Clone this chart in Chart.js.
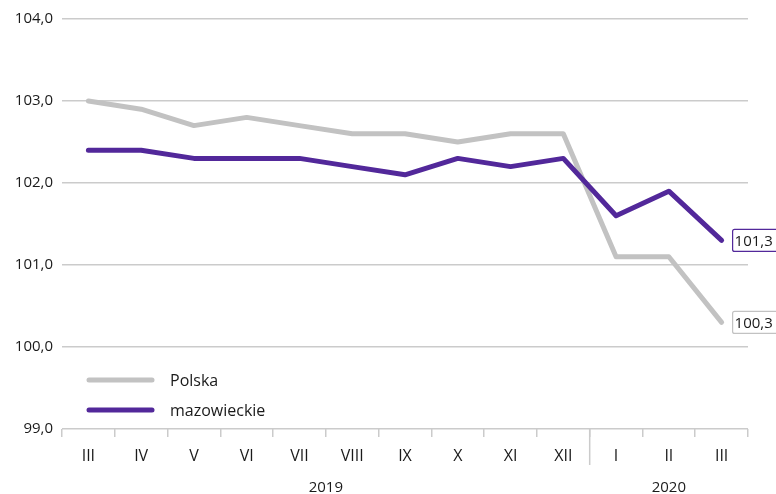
<!DOCTYPE html>
<html>
<head>
<meta charset="utf-8">
<script src="https://cdn.jsdelivr.net/npm/chart.js@4"></script>
<style>
  html, body { margin: 0; padding: 0; background: #fff; }
  #wrap { width: 776px; height: 494px; }
</style>
</head>
<body>
<div id="wrap"><canvas id="chart" width="776" height="494"></canvas></div>
<script>
// --- dane ---
const months = ['III', 'IV', 'V', 'VI', 'VII', 'VIII', 'IX', 'X', 'XI', 'XII', 'I', 'II', 'III'];
const years = [
  { label: '2019', from: 0, to: 9 },
  { label: '2020', from: 10, to: 12 }
];
const polska = [103.0, 102.9, 102.7, 102.8, 102.7, 102.6, 102.6, 102.5, 102.6, 102.6, 101.1, 101.1, 100.3];
const mazowieckie = [102.4, 102.4, 102.3, 102.3, 102.3, 102.2, 102.1, 102.3, 102.2, 102.3, 101.6, 101.9, 101.3];
const yMin = 99, yMax = 104;

const GREY = '#c2c2c2';
const PURPLE = '#52289a';
const GRID = '#cbcbcb';
const TEXT = '#1a1a1a';
const FONT = '"Open Sans", sans-serif';

const fmt = v => v.toFixed(1).replace('.', ',');

// legenda, etykiety lat i wartości końcowe rysowane ręcznie
const extras = {
  id: 'extras',
  afterDatasetsDraw(chart) {
    const { ctx, chartArea, scales } = chart;
    const x = scales.x, y = scales.y;
    ctx.save();

    // separator lat (XII | I)
    const sepX = (x.getPixelForValue(9) + x.getPixelForValue(10)) / 2;
    ctx.strokeStyle = GRID;
    ctx.lineWidth = 1.5;
    ctx.beginPath();
    ctx.moveTo(sepX, chartArea.bottom);
    ctx.lineTo(sepX, chartArea.bottom + 36);
    ctx.stroke();

    // lata
    ctx.fillStyle = TEXT;
    ctx.font = '15px ' + FONT;
    ctx.textAlign = 'center';
    ctx.textBaseline = 'middle';
    years.forEach(yr => {
      const cx = (x.getPixelForValue(yr.from) + x.getPixelForValue(yr.to)) / 2;
      ctx.fillText(yr.label, cx, chartArea.bottom + 59);
    });

    // legenda
    ctx.font = '16px ' + FONT;
    const items = [{ label: 'Polska', color: GREY }, { label: 'mazowieckie', color: PURPLE }];
    items.forEach((it, i) => {
      const ly = chartArea.bottom - 49 + i * 30;
      ctx.strokeStyle = it.color;
      ctx.lineWidth = 5;
      ctx.lineCap = 'round';
      ctx.beginPath();
      ctx.moveTo(chartArea.left + 27, ly);
      ctx.lineTo(chartArea.left + 90, ly);
      ctx.stroke();
      ctx.textAlign = 'left';
      ctx.fillText(it.label, chartArea.left + 108, ly + 1);
    });

    // wartości końcowe
    ctx.font = '15px ' + FONT;
    chart.data.datasets.forEach(ds => {
      const last = ds.data.length - 1;
      const px = x.getPixelForValue(last);
      const py = y.getPixelForValue(ds.data[last]);
      const bx = px + 11, by = py - 11;
      ctx.fillStyle = '#fff';
      ctx.strokeStyle = ds.borderColor;
      ctx.lineWidth = 1.2;
      ctx.beginPath();
      ctx.roundRect(bx, by, 60, 22, 2);
      ctx.fill();
      ctx.stroke();
      ctx.fillStyle = TEXT;
      ctx.textAlign = 'left';
      ctx.fillText(fmt(ds.data[last]), bx + 2, py + 1);
    });

    ctx.restore();
  }
};

new Chart(document.getElementById('chart'), {
  type: 'line',
  data: {
    labels: months,
    datasets: [
      { label: 'Polska', data: polska, borderColor: GREY, order: 2 },
      { label: 'mazowieckie', data: mazowieckie, borderColor: PURPLE, order: 1 }
    ]
  },
  options: {
    responsive: false,
    animation: false,
    layout: { padding: { top: 19, right: 28, left: 0, bottom: 0 } },
    elements: {
      line: { borderWidth: 5, tension: 0, borderCapStyle: 'round', borderJoinStyle: 'round', fill: false },
      point: { radius: 0, hoverRadius: 0 }
    },
    plugins: { legend: { display: false }, tooltip: { enabled: false } },
    scales: {
      x: {
        offset: true,
        grid: { offset: true, drawOnChartArea: false, color: GRID, lineWidth: 1.5, tickLength: 8 },
        border: { display: false },
        ticks: { color: TEXT, font: { family: FONT, size: 16 }, padding: 10, maxRotation: 0, autoSkip: false },
        afterFit: s => { s.height = 65; }
      },
      y: {
        min: yMin,
        max: yMax,
        grid: { color: GRID, lineWidth: 1.5, drawTicks: false },
        border: { display: false },
        ticks: {
          stepSize: 1,
          color: TEXT,
          font: { family: FONT, size: 15 },
          padding: 9,
          callback: v => fmt(v)
        },
        afterFit: s => { s.width = 62; }
      }
    }
  },
  plugins: [extras]
});
</script>
</body>
</html>
